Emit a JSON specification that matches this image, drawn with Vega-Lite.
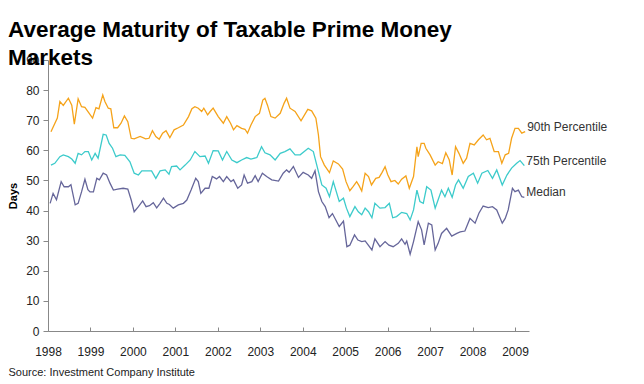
{
  "$schema": "https://vega.github.io/schema/vega-lite/v6.json",
  "width": 481,
  "height": 271,
  "autosize": {"type": "none"},
  "padding": {"left": 48, "top": 60, "right": 115, "bottom": 53},
  "background": "white",
  "title": {
    "text": ["Average Maturity of Taxable Prime Money", "Markets"],
    "anchor": "start",
    "frame": "group",
    "dx": -40,
    "offset": -15,
    "fontSize": 22.5,
    "font": "Liberation Sans",
    "fontWeight": "bold",
    "color": "#000000",
    "lineHeight": 28
  },
  "config": {
    "view": {"stroke": null},
    "font": "Liberation Sans",
    "axis": {"labelOverlap": false, "grid": false, "labelFontSize": 12, "labelColor": "#222222", "tickColor": "#888888", "domainColor": "#888888", "labelFlush": false},
    "axisX": {"labelPadding": 19, "tickSize": -4, "titleFontSize": 11, "titleFontWeight": "normal", "titleColor": "#222222", "titleAnchor": "start", "titleAlign": "left", "titleBaseline": "alphabetic", "titleX": -40, "titleY": 44},
    "axisY": {"labelPadding": 4, "tickSize": 5, "titleFontSize": 11, "titleFontWeight": "bold", "titleColor": "#000000", "titlePadding": 7}
  },
  "data": {"values": [
    {"s":"90th Percentile","t":1998.07,"v":66.2},{"s":"90th Percentile","t":1998.22,"v":70.7},{"s":"90th Percentile","t":1998.28,"v":76.2},{"s":"90th Percentile","t":1998.36,"v":74.9},{"s":"90th Percentile","t":1998.48,"v":77.3},{"s":"90th Percentile","t":1998.56,"v":75.0},{"s":"90th Percentile","t":1998.62,"v":68.7},{"s":"90th Percentile","t":1998.71,"v":77.1},{"s":"90th Percentile","t":1998.79,"v":74.5},{"s":"90th Percentile","t":1998.87,"v":74.3},{"s":"90th Percentile","t":1999.05,"v":70.7},{"s":"90th Percentile","t":1999.13,"v":74.2},{"s":"90th Percentile","t":1999.20,"v":73.8},{"s":"90th Percentile","t":1999.29,"v":78.4},{"s":"90th Percentile","t":1999.34,"v":76.2},{"s":"90th Percentile","t":1999.42,"v":74.0},{"s":"90th Percentile","t":1999.48,"v":73.8},{"s":"90th Percentile","t":1999.55,"v":67.5},{"s":"90th Percentile","t":1999.64,"v":67.5},{"s":"90th Percentile","t":1999.72,"v":69.0},{"s":"90th Percentile","t":1999.80,"v":71.4},{"s":"90th Percentile","t":1999.88,"v":69.5},{"s":"90th Percentile","t":1999.96,"v":64.0},{"s":"90th Percentile","t":2000.03,"v":63.8},{"s":"90th Percentile","t":2000.17,"v":64.6},{"s":"90th Percentile","t":2000.30,"v":63.8},{"s":"90th Percentile","t":2000.38,"v":64.0},{"s":"90th Percentile","t":2000.46,"v":66.5},{"s":"90th Percentile","t":2000.54,"v":64.6},{"s":"90th Percentile","t":2000.62,"v":63.7},{"s":"90th Percentile","t":2000.70,"v":65.7},{"s":"90th Percentile","t":2000.78,"v":66.5},{"s":"90th Percentile","t":2000.87,"v":64.2},{"s":"90th Percentile","t":2000.97,"v":66.8},{"s":"90th Percentile","t":2001.07,"v":67.5},{"s":"90th Percentile","t":2001.19,"v":68.4},{"s":"90th Percentile","t":2001.31,"v":71.2},{"s":"90th Percentile","t":2001.39,"v":73.8},{"s":"90th Percentile","t":2001.46,"v":74.5},{"s":"90th Percentile","t":2001.54,"v":74.0},{"s":"90th Percentile","t":2001.62,"v":72.9},{"s":"90th Percentile","t":2001.67,"v":74.0},{"s":"90th Percentile","t":2001.76,"v":71.8},{"s":"90th Percentile","t":2001.82,"v":72.9},{"s":"90th Percentile","t":2001.89,"v":74.0},{"s":"90th Percentile","t":2002.01,"v":71.2},{"s":"90th Percentile","t":2002.13,"v":69.0},{"s":"90th Percentile","t":2002.21,"v":71.2},{"s":"90th Percentile","t":2002.30,"v":69.0},{"s":"90th Percentile","t":2002.37,"v":66.8},{"s":"90th Percentile","t":2002.45,"v":68.2},{"s":"90th Percentile","t":2002.56,"v":67.3},{"s":"90th Percentile","t":2002.64,"v":67.0},{"s":"90th Percentile","t":2002.70,"v":65.7},{"s":"90th Percentile","t":2002.78,"v":68.4},{"s":"90th Percentile","t":2002.88,"v":71.2},{"s":"90th Percentile","t":2002.98,"v":72.3},{"s":"90th Percentile","t":2003.06,"v":76.7},{"s":"90th Percentile","t":2003.11,"v":77.3},{"s":"90th Percentile","t":2003.17,"v":75.0},{"s":"90th Percentile","t":2003.25,"v":71.2},{"s":"90th Percentile","t":2003.35,"v":70.7},{"s":"90th Percentile","t":2003.47,"v":72.3},{"s":"90th Percentile","t":2003.56,"v":75.6},{"s":"90th Percentile","t":2003.62,"v":77.3},{"s":"90th Percentile","t":2003.70,"v":74.0},{"s":"90th Percentile","t":2003.82,"v":72.9},{"s":"90th Percentile","t":2003.96,"v":69.8},{"s":"90th Percentile","t":2004.12,"v":73.6},{"s":"90th Percentile","t":2004.21,"v":73.1},{"s":"90th Percentile","t":2004.31,"v":70.7},{"s":"90th Percentile","t":2004.37,"v":65.1},{"s":"90th Percentile","t":2004.42,"v":57.9},{"s":"90th Percentile","t":2004.51,"v":55.1},{"s":"90th Percentile","t":2004.63,"v":52.6},{"s":"90th Percentile","t":2004.72,"v":56.5},{"s":"90th Percentile","t":2004.84,"v":55.5},{"s":"90th Percentile","t":2004.94,"v":53.8},{"s":"90th Percentile","t":2005.02,"v":49.6},{"s":"90th Percentile","t":2005.11,"v":46.6},{"s":"90th Percentile","t":2005.19,"v":48.0},{"s":"90th Percentile","t":2005.27,"v":49.6},{"s":"90th Percentile","t":2005.33,"v":48.2},{"s":"90th Percentile","t":2005.39,"v":46.5},{"s":"90th Percentile","t":2005.47,"v":52.4},{"s":"90th Percentile","t":2005.55,"v":51.3},{"s":"90th Percentile","t":2005.62,"v":48.5},{"s":"90th Percentile","t":2005.72,"v":50.7},{"s":"90th Percentile","t":2005.80,"v":51.0},{"s":"90th Percentile","t":2005.87,"v":52.7},{"s":"90th Percentile","t":2005.94,"v":54.6},{"s":"90th Percentile","t":2006.00,"v":52.0},{"s":"90th Percentile","t":2006.08,"v":49.6},{"s":"90th Percentile","t":2006.17,"v":50.0},{"s":"90th Percentile","t":2006.25,"v":48.8},{"s":"90th Percentile","t":2006.33,"v":50.4},{"s":"90th Percentile","t":2006.43,"v":51.5},{"s":"90th Percentile","t":2006.51,"v":47.4},{"s":"90th Percentile","t":2006.61,"v":51.3},{"s":"90th Percentile","t":2006.69,"v":61.2},{"s":"90th Percentile","t":2006.72,"v":57.9},{"s":"90th Percentile","t":2006.79,"v":62.3},{"s":"90th Percentile","t":2006.86,"v":62.3},{"s":"90th Percentile","t":2006.90,"v":60.7},{"s":"90th Percentile","t":2007.00,"v":58.5},{"s":"90th Percentile","t":2007.12,"v":55.1},{"s":"90th Percentile","t":2007.19,"v":56.2},{"s":"90th Percentile","t":2007.29,"v":55.6},{"s":"90th Percentile","t":2007.37,"v":59.2},{"s":"90th Percentile","t":2007.45,"v":56.9},{"s":"90th Percentile","t":2007.52,"v":51.8},{"s":"90th Percentile","t":2007.60,"v":61.2},{"s":"90th Percentile","t":2007.68,"v":59.0},{"s":"90th Percentile","t":2007.78,"v":55.7},{"s":"90th Percentile","t":2007.86,"v":57.4},{"s":"90th Percentile","t":2007.94,"v":62.3},{"s":"90th Percentile","t":2008.04,"v":61.8},{"s":"90th Percentile","t":2008.14,"v":63.5},{"s":"90th Percentile","t":2008.25,"v":65.1},{"s":"90th Percentile","t":2008.33,"v":63.5},{"s":"90th Percentile","t":2008.41,"v":64.0},{"s":"90th Percentile","t":2008.51,"v":59.6},{"s":"90th Percentile","t":2008.61,"v":59.6},{"s":"90th Percentile","t":2008.69,"v":55.7},{"s":"90th Percentile","t":2008.77,"v":58.5},{"s":"90th Percentile","t":2008.85,"v":59.0},{"s":"90th Percentile","t":2008.92,"v":64.0},{"s":"90th Percentile","t":2009.00,"v":67.3},{"s":"90th Percentile","t":2009.08,"v":67.3},{"s":"90th Percentile","t":2009.16,"v":65.7},{"s":"90th Percentile","t":2009.24,"v":66.2},

    {"s":"75th Percentile","t":1998.07,"v":55.1},{"s":"75th Percentile","t":1998.16,"v":55.7},{"s":"75th Percentile","t":1998.28,"v":57.9},{"s":"75th Percentile","t":1998.36,"v":58.5},{"s":"75th Percentile","t":1998.48,"v":57.9},{"s":"75th Percentile","t":1998.56,"v":57.1},{"s":"75th Percentile","t":1998.64,"v":55.7},{"s":"75th Percentile","t":1998.71,"v":59.0},{"s":"75th Percentile","t":1998.79,"v":58.5},{"s":"75th Percentile","t":1998.87,"v":59.6},{"s":"75th Percentile","t":1998.95,"v":59.6},{"s":"75th Percentile","t":1999.03,"v":56.8},{"s":"75th Percentile","t":1999.11,"v":59.0},{"s":"75th Percentile","t":1999.18,"v":57.4},{"s":"75th Percentile","t":1999.30,"v":65.3},{"s":"75th Percentile","t":1999.37,"v":65.1},{"s":"75th Percentile","t":1999.44,"v":62.3},{"s":"75th Percentile","t":1999.52,"v":60.7},{"s":"75th Percentile","t":1999.60,"v":57.9},{"s":"75th Percentile","t":1999.70,"v":58.5},{"s":"75th Percentile","t":1999.81,"v":58.3},{"s":"75th Percentile","t":1999.93,"v":56.2},{"s":"75th Percentile","t":2000.03,"v":52.4},{"s":"75th Percentile","t":2000.13,"v":51.8},{"s":"75th Percentile","t":2000.21,"v":53.2},{"s":"75th Percentile","t":2000.32,"v":53.2},{"s":"75th Percentile","t":2000.44,"v":53.2},{"s":"75th Percentile","t":2000.54,"v":50.7},{"s":"75th Percentile","t":2000.64,"v":53.2},{"s":"75th Percentile","t":2000.76,"v":53.5},{"s":"75th Percentile","t":2000.85,"v":52.1},{"s":"75th Percentile","t":2000.91,"v":54.6},{"s":"75th Percentile","t":2001.03,"v":54.8},{"s":"75th Percentile","t":2001.11,"v":53.5},{"s":"75th Percentile","t":2001.23,"v":55.1},{"s":"75th Percentile","t":2001.35,"v":56.8},{"s":"75th Percentile","t":2001.46,"v":59.6},{"s":"75th Percentile","t":2001.58,"v":57.9},{"s":"75th Percentile","t":2001.70,"v":58.1},{"s":"75th Percentile","t":2001.78,"v":55.7},{"s":"75th Percentile","t":2001.89,"v":59.9},{"s":"75th Percentile","t":2002.01,"v":59.8},{"s":"75th Percentile","t":2002.11,"v":56.8},{"s":"75th Percentile","t":2002.21,"v":59.6},{"s":"75th Percentile","t":2002.33,"v":56.8},{"s":"75th Percentile","t":2002.45,"v":55.9},{"s":"75th Percentile","t":2002.56,"v":56.8},{"s":"75th Percentile","t":2002.68,"v":57.6},{"s":"75th Percentile","t":2002.78,"v":57.1},{"s":"75th Percentile","t":2002.92,"v":57.6},{"s":"75th Percentile","t":2003.03,"v":61.2},{"s":"75th Percentile","t":2003.11,"v":59.2},{"s":"75th Percentile","t":2003.23,"v":58.5},{"s":"75th Percentile","t":2003.35,"v":56.8},{"s":"75th Percentile","t":2003.47,"v":59.0},{"s":"75th Percentile","t":2003.58,"v":59.6},{"s":"75th Percentile","t":2003.70,"v":60.5},{"s":"75th Percentile","t":2003.82,"v":58.5},{"s":"75th Percentile","t":2003.94,"v":58.5},{"s":"75th Percentile","t":2004.13,"v":60.7},{"s":"75th Percentile","t":2004.25,"v":59.6},{"s":"75th Percentile","t":2004.37,"v":52.9},{"s":"75th Percentile","t":2004.45,"v":48.5},{"s":"75th Percentile","t":2004.55,"v":47.4},{"s":"75th Percentile","t":2004.63,"v":44.6},{"s":"75th Percentile","t":2004.72,"v":49.6},{"s":"75th Percentile","t":2004.86,"v":43.0},{"s":"75th Percentile","t":2004.96,"v":44.1},{"s":"75th Percentile","t":2005.03,"v":40.8},{"s":"75th Percentile","t":2005.11,"v":38.0},{"s":"75th Percentile","t":2005.23,"v":41.3},{"s":"75th Percentile","t":2005.31,"v":39.6},{"s":"75th Percentile","t":2005.39,"v":38.6},{"s":"75th Percentile","t":2005.47,"v":40.8},{"s":"75th Percentile","t":2005.55,"v":39.6},{"s":"75th Percentile","t":2005.63,"v":37.6},{"s":"75th Percentile","t":2005.70,"v":42.4},{"s":"75th Percentile","t":2005.82,"v":40.8},{"s":"75th Percentile","t":2005.94,"v":41.0},{"s":"75th Percentile","t":2006.04,"v":42.4},{"s":"75th Percentile","t":2006.12,"v":37.6},{"s":"75th Percentile","t":2006.21,"v":38.0},{"s":"75th Percentile","t":2006.33,"v":39.4},{"s":"75th Percentile","t":2006.45,"v":39.0},{"s":"75th Percentile","t":2006.53,"v":36.9},{"s":"75th Percentile","t":2006.61,"v":40.2},{"s":"75th Percentile","t":2006.69,"v":46.8},{"s":"75th Percentile","t":2006.76,"v":43.0},{"s":"75th Percentile","t":2006.84,"v":42.4},{"s":"75th Percentile","t":2006.92,"v":47.9},{"s":"75th Percentile","t":2007.02,"v":46.8},{"s":"75th Percentile","t":2007.12,"v":40.8},{"s":"75th Percentile","t":2007.19,"v":43.6},{"s":"75th Percentile","t":2007.27,"v":46.8},{"s":"75th Percentile","t":2007.35,"v":44.6},{"s":"75th Percentile","t":2007.43,"v":47.4},{"s":"75th Percentile","t":2007.52,"v":44.4},{"s":"75th Percentile","t":2007.60,"v":48.5},{"s":"75th Percentile","t":2007.67,"v":50.2},{"s":"75th Percentile","t":2007.78,"v":47.4},{"s":"75th Percentile","t":2007.90,"v":51.3},{"s":"75th Percentile","t":2008.02,"v":52.4},{"s":"75th Percentile","t":2008.12,"v":49.1},{"s":"75th Percentile","t":2008.22,"v":52.4},{"s":"75th Percentile","t":2008.36,"v":53.3},{"s":"75th Percentile","t":2008.47,"v":50.7},{"s":"75th Percentile","t":2008.57,"v":53.5},{"s":"75th Percentile","t":2008.70,"v":48.5},{"s":"75th Percentile","t":2008.81,"v":51.8},{"s":"75th Percentile","t":2008.92,"v":54.1},{"s":"75th Percentile","t":2009.04,"v":55.7},{"s":"75th Percentile","t":2009.12,"v":56.6},{"s":"75th Percentile","t":2009.22,"v":54.9},

    {"s":"Median","t":1998.05,"v":42.4},{"s":"Median","t":1998.12,"v":45.7},{"s":"Median","t":1998.20,"v":43.6},{"s":"Median","t":1998.31,"v":49.6},{"s":"Median","t":1998.38,"v":47.9},{"s":"Median","t":1998.48,"v":47.9},{"s":"Median","t":1998.54,"v":48.6},{"s":"Median","t":1998.64,"v":41.9},{"s":"Median","t":1998.71,"v":42.4},{"s":"Median","t":1998.79,"v":46.2},{"s":"Median","t":1998.87,"v":50.4},{"s":"Median","t":1998.94,"v":46.9},{"s":"Median","t":1998.99,"v":46.2},{"s":"Median","t":1999.07,"v":46.2},{"s":"Median","t":1999.15,"v":50.7},{"s":"Median","t":1999.21,"v":50.2},{"s":"Median","t":1999.30,"v":52.4},{"s":"Median","t":1999.38,"v":51.8},{"s":"Median","t":1999.46,"v":49.1},{"s":"Median","t":1999.54,"v":46.8},{"s":"Median","t":1999.64,"v":47.1},{"s":"Median","t":1999.77,"v":47.4},{"s":"Median","t":1999.88,"v":47.1},{"s":"Median","t":1999.96,"v":43.5},{"s":"Median","t":2000.03,"v":39.6},{"s":"Median","t":2000.13,"v":41.3},{"s":"Median","t":2000.23,"v":43.2},{"s":"Median","t":2000.31,"v":41.3},{"s":"Median","t":2000.39,"v":41.6},{"s":"Median","t":2000.48,"v":42.6},{"s":"Median","t":2000.56,"v":40.9},{"s":"Median","t":2000.64,"v":42.4},{"s":"Median","t":2000.72,"v":44.1},{"s":"Median","t":2000.80,"v":42.4},{"s":"Median","t":2000.86,"v":42.0},{"s":"Median","t":2000.95,"v":40.8},{"s":"Median","t":2001.07,"v":41.9},{"s":"Median","t":2001.19,"v":42.4},{"s":"Median","t":2001.27,"v":43.5},{"s":"Median","t":2001.37,"v":46.8},{"s":"Median","t":2001.48,"v":50.7},{"s":"Median","t":2001.54,"v":49.6},{"s":"Median","t":2001.60,"v":45.7},{"s":"Median","t":2001.70,"v":47.4},{"s":"Median","t":2001.79,"v":47.4},{"s":"Median","t":2001.87,"v":51.3},{"s":"Median","t":2001.97,"v":50.5},{"s":"Median","t":2002.04,"v":51.3},{"s":"Median","t":2002.13,"v":49.6},{"s":"Median","t":2002.21,"v":51.3},{"s":"Median","t":2002.31,"v":49.6},{"s":"Median","t":2002.37,"v":50.2},{"s":"Median","t":2002.47,"v":47.4},{"s":"Median","t":2002.56,"v":48.5},{"s":"Median","t":2002.62,"v":51.8},{"s":"Median","t":2002.70,"v":49.1},{"s":"Median","t":2002.80,"v":49.6},{"s":"Median","t":2002.88,"v":51.6},{"s":"Median","t":2002.95,"v":49.6},{"s":"Median","t":2003.05,"v":52.4},{"s":"Median","t":2003.15,"v":51.3},{"s":"Median","t":2003.27,"v":50.2},{"s":"Median","t":2003.43,"v":49.8},{"s":"Median","t":2003.54,"v":52.4},{"s":"Median","t":2003.62,"v":53.5},{"s":"Median","t":2003.68,"v":52.7},{"s":"Median","t":2003.78,"v":54.6},{"s":"Median","t":2003.90,"v":51.0},{"s":"Median","t":2004.01,"v":52.7},{"s":"Median","t":2004.13,"v":51.8},{"s":"Median","t":2004.21,"v":50.7},{"s":"Median","t":2004.29,"v":53.2},{"s":"Median","t":2004.37,"v":46.3},{"s":"Median","t":2004.45,"v":43.0},{"s":"Median","t":2004.53,"v":41.3},{"s":"Median","t":2004.62,"v":37.6},{"s":"Median","t":2004.70,"v":39.0},{"s":"Median","t":2004.86,"v":34.7},{"s":"Median","t":2004.96,"v":36.5},{"s":"Median","t":2005.04,"v":28.0},{"s":"Median","t":2005.11,"v":28.5},{"s":"Median","t":2005.22,"v":31.9},{"s":"Median","t":2005.30,"v":30.2},{"s":"Median","t":2005.39,"v":29.7},{"s":"Median","t":2005.47,"v":29.9},{"s":"Median","t":2005.63,"v":26.9},{"s":"Median","t":2005.70,"v":30.6},{"s":"Median","t":2005.82,"v":28.0},{"s":"Median","t":2005.94,"v":29.7},{"s":"Median","t":2006.03,"v":28.5},{"s":"Median","t":2006.13,"v":28.0},{"s":"Median","t":2006.25,"v":29.1},{"s":"Median","t":2006.33,"v":30.6},{"s":"Median","t":2006.41,"v":28.8},{"s":"Median","t":2006.45,"v":29.9},{"s":"Median","t":2006.53,"v":25.5},{"s":"Median","t":2006.61,"v":29.7},{"s":"Median","t":2006.72,"v":36.3},{"s":"Median","t":2006.80,"v":33.6},{"s":"Median","t":2006.86,"v":28.6},{"s":"Median","t":2006.96,"v":35.8},{"s":"Median","t":2007.04,"v":35.2},{"s":"Median","t":2007.12,"v":26.9},{"s":"Median","t":2007.19,"v":29.1},{"s":"Median","t":2007.27,"v":32.4},{"s":"Median","t":2007.39,"v":34.1},{"s":"Median","t":2007.51,"v":31.5},{"s":"Median","t":2007.63,"v":32.4},{"s":"Median","t":2007.71,"v":32.9},{"s":"Median","t":2007.82,"v":33.2},{"s":"Median","t":2007.94,"v":37.4},{"s":"Median","t":2008.06,"v":35.8},{"s":"Median","t":2008.15,"v":39.1},{"s":"Median","t":2008.25,"v":41.5},{"s":"Median","t":2008.37,"v":41.0},{"s":"Median","t":2008.47,"v":41.3},{"s":"Median","t":2008.57,"v":40.2},{"s":"Median","t":2008.70,"v":35.8},{"s":"Median","t":2008.77,"v":37.4},{"s":"Median","t":2008.84,"v":40.2},{"s":"Median","t":2008.94,"v":47.4},{"s":"Median","t":2009.00,"v":46.3},{"s":"Median","t":2009.08,"v":46.8},{"s":"Median","t":2009.16,"v":44.6},{"s":"Median","t":2009.22,"v":44.4}
  ]},
  "encoding": {
    "x": {
      "field": "t", "type": "quantitative",
      "scale": {"domain": [1998, 2009.33], "nice": false, "zero": false},
      "axis": {
        "values": [1998,1999,2000,2001,2002,2003,2004,2005,2006,2007,2008,2009],
        "format": "d",
        "title": "Source: Investment Company Institute"
      }
    },
    "y": {
      "field": "v", "type": "quantitative",
      "scale": {"domain": [0, 90], "nice": false},
      "axis": {
        "values": [0,10,20,30,40,50,60,70,80,90],
        "title": "Days"
      }
    }
  },
  "layer": [
    {
      "mark": {"type": "line", "strokeWidth": 1.3},
      "encoding": {
        "color": {
          "field": "s", "type": "nominal",
          "scale": {"domain": ["90th Percentile", "75th Percentile", "Median"], "range": ["#F5A31A", "#3DCBCB", "#66669A"]},
          "legend": null
        }
      }
    },
    {
      "transform": [{"filter": "datum.t >= 2009.2"}],
      "mark": {"type": "text", "align": "left", "baseline": "middle", "dx": 2, "dy": -5, "fontSize": 12, "color": "#333333"},
      "encoding": {
        "text": {"field": "s", "type": "nominal"}
      }
    }
  ]
}
